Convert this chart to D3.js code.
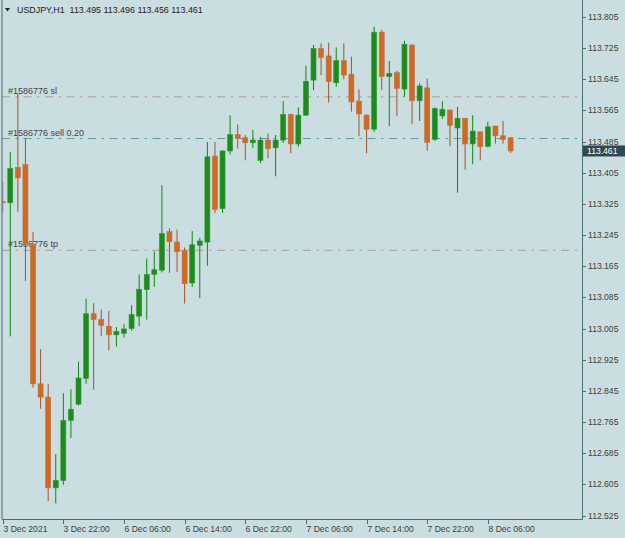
<!DOCTYPE html>
<html><head><meta charset="utf-8">
<script src="https://cdn.jsdelivr.net/npm/d3@7"></script>
<style>html,body{margin:0;padding:0;background:#CADDE0;}svg{display:block;}</style>
</head><body>
<script>
// ---- data ----
const opens  = [113.331,113.328,113.419,113.426,113.221,112.863,112.829,112.596,112.615,112.769,112.811,112.877,113.043,113.028,113.011,112.989,112.993,113.005,113.037,113.105,113.144,113.155,113.254,113.227,113.206,113.122,113.219,113.227,113.448,113.313,113.461,113.503,113.495,113.482,113.437,113.489,113.469,113.489,113.555,113.479,113.553,113.643,113.724,113.705,113.636,113.693,113.658,113.589,113.553,113.517,113.766,113.652,113.662,113.620,113.733,113.590,113.623,113.491,113.551,113.566,113.520,113.545,113.479,113.510,113.473,113.525,113.500,113.495];
const highs  = [113.382,113.459,113.609,113.493,113.253,112.952,112.863,112.683,112.839,112.849,112.920,113.082,113.070,113.054,113.050,113.009,113.016,113.065,113.144,113.185,113.203,113.373,113.262,113.259,113.213,113.255,113.238,113.484,113.484,113.463,113.553,113.529,113.502,113.515,113.497,113.506,113.502,113.589,113.557,113.573,113.680,113.733,113.737,113.739,113.727,113.737,113.703,113.619,113.555,113.780,113.772,113.692,113.667,113.744,113.735,113.635,113.647,113.573,113.589,113.568,113.574,113.545,113.553,113.510,113.536,113.525,113.538,113.496];
const lows   = [113.305,112.985,113.305,113.127,112.853,112.799,112.562,112.556,112.604,112.724,112.808,112.863,112.848,112.986,112.949,112.959,112.982,113.000,113.011,113.028,113.112,113.149,113.148,113.150,113.069,113.112,113.083,113.166,113.302,113.302,113.452,113.467,113.437,113.469,113.430,113.442,113.396,113.482,113.455,113.472,113.551,113.617,113.656,113.585,113.626,113.645,113.562,113.499,113.455,113.510,113.617,113.525,113.551,113.600,113.530,113.538,113.461,113.487,113.543,113.473,113.354,113.413,113.427,113.437,113.470,113.480,113.480,113.456];
const closes = [113.328,113.416,113.392,113.223,112.863,112.829,112.596,112.615,112.769,112.798,112.878,113.043,113.028,113.013,112.989,112.997,113.004,113.041,113.106,113.144,113.156,113.249,113.228,113.202,113.120,113.220,113.230,113.446,113.311,113.461,113.503,113.493,113.482,113.489,113.489,113.467,113.489,113.555,113.479,113.553,113.640,113.724,113.701,113.639,113.693,113.656,113.587,113.556,113.517,113.766,113.652,113.660,113.622,113.735,113.590,113.628,113.483,113.570,113.568,113.527,113.545,113.479,113.512,113.472,113.523,113.500,113.491,113.461];
const timeLabelIdx = [0,8,16,24,32,40,48,56,64];
const timeLabels = ["3 Dec 2021","3 Dec 22:00","6 Dec 06:00","6 Dec 14:00","6 Dec 22:00","7 Dec 06:00","7 Dec 14:00","7 Dec 22:00","8 Dec 06:00"];
const priceTicks = [113.805,113.725,113.645,113.565,113.485,113.405,113.325,113.245,113.165,113.085,113.005,112.925,112.845,112.765,112.685,112.605,112.525];
const orderLevels = [113.600,113.493,113.206];
const orderLabels = ["#1586776 sl","#1586776 sell 0.20","#1586776 tp"];
const title = "USDJPY,H1  113.495 113.496 113.456 113.461";
const lastPrice = 113.461;

// ---- layout ----
const W=625,H=538, left=2, right=582, bottom=519;
const svg=d3.select("body").append("svg").attr("width",W).attr("height",H);
svg.append("rect").attr("width",W).attr("height",H).attr("fill","#CADDE0");
const font="Liberation Sans, Arial, sans-serif";
const y=d3.scaleLinear().domain([112.525,113.805]).range([515.5,17]);
const x=d3.scaleLinear().domain([0,67]).range([2.7,510.6]);

svg.append("defs").append("clipPath").attr("id","plot").append("rect")
  .attr("x",left+0.5).attr("y",0).attr("width",right-left-0.5).attr("height",bottom);

const plot=svg.append("g").attr("clip-path","url(#plot)");

// order lines
const lineCol=["#AA9C94","#5F9EA0","#AA9C94"];
orderLevels.forEach((p,k)=>{
  plot.append("line").attr("x1",left).attr("x2",right).attr("y1",y(p)).attr("y2",y(p))
    .attr("stroke",lineCol[k]).attr("stroke-width",1).attr("stroke-dasharray","8,5.5,2.5,5.5");
  plot.append("text").attr("x",8).attr("y",y(p)-3).text(orderLabels[k])
    .attr("font-family",font).attr("font-size",9).attr("fill","#444");
});

// candles
const idx=d3.range(opens.length);
const bw=5;
const c=plot.selectAll("g.c").data(idx).join("g");
c.append("line").attr("x1",i=>x(i)).attr("x2",i=>x(i))
  .attr("y1",i=>y(highs[i])).attr("y2",i=>y(lows[i]))
  .attr("stroke",i=>closes[i]>=opens[i]?"#0A8A0A":"#A0522D").attr("stroke-width",1);
c.append("rect").attr("x",i=>x(i)-bw/2).attr("width",bw)
  .attr("y",i=>y(Math.max(opens[i],closes[i])))
  .attr("height",i=>Math.max(1,Math.abs(y(opens[i])-y(closes[i]))))
  .attr("fill",i=>closes[i]>=opens[i]?"#1E8B1E":"#D2691E")
  .attr("stroke",i=>closes[i]>=opens[i]?"#2E9A2E":"#B8734A").attr("stroke-width",0.6);

// frame
const axCol="#4E6A72";
svg.append("line").attr("x1",left).attr("x2",left).attr("y1",0).attr("y2",bottom).attr("stroke",axCol);
svg.append("line").attr("x1",right+0.5).attr("x2",right+0.5).attr("y1",0).attr("y2",bottom+0.5).attr("stroke",axCol);
svg.append("line").attr("x1",left).attr("x2",right+0.5).attr("y1",bottom+0.5).attr("y2",bottom+0.5).attr("stroke",axCol);

// right axis
priceTicks.forEach(p=>{
  svg.append("line").attr("x1",right).attr("x2",right+4).attr("y1",Math.round(y(p))+0.5).attr("y2",Math.round(y(p))+0.5).attr("stroke",axCol);
  svg.append("text").attr("x",588).attr("y",y(p)+3).text(d3.format(".3f")(p))
    .attr("font-family",font).attr("font-size",8.6).attr("fill","#3f3f3f");
});
// current price box
svg.append("rect").attr("x",583).attr("y",y(lastPrice)-5.5).attr("width",42).attr("height",11).attr("fill","#2E4A50");
svg.append("text").attr("x",587).attr("y",y(lastPrice)+3).text(d3.format(".3f")(lastPrice))
  .attr("font-family",font).attr("font-size",8.6).attr("fill","#ffffff");

// bottom axis
timeLabelIdx.forEach((i,k)=>{
  const xx=Math.round(x(i))+0.5;
  svg.append("line").attr("x1",xx).attr("x2",xx).attr("y1",bottom).attr("y2",bottom+5).attr("stroke",axCol);
  svg.append("text").attr("x",xx).attr("y",532).text(timeLabels[k])
    .attr("font-family",font).attr("font-size",8.6).attr("fill","#3f3f3f");
});

// title
svg.append("path").attr("d","M5,8 L10,8 L7.5,11.5 Z").attr("fill","#222");
svg.append("text").attr("x",17).attr("y",13).text(title).attr("xml:space","preserve")
  .style("white-space","pre").attr("font-family",font).attr("font-size",8.9).attr("fill","#222");
</script>
</body></html>
